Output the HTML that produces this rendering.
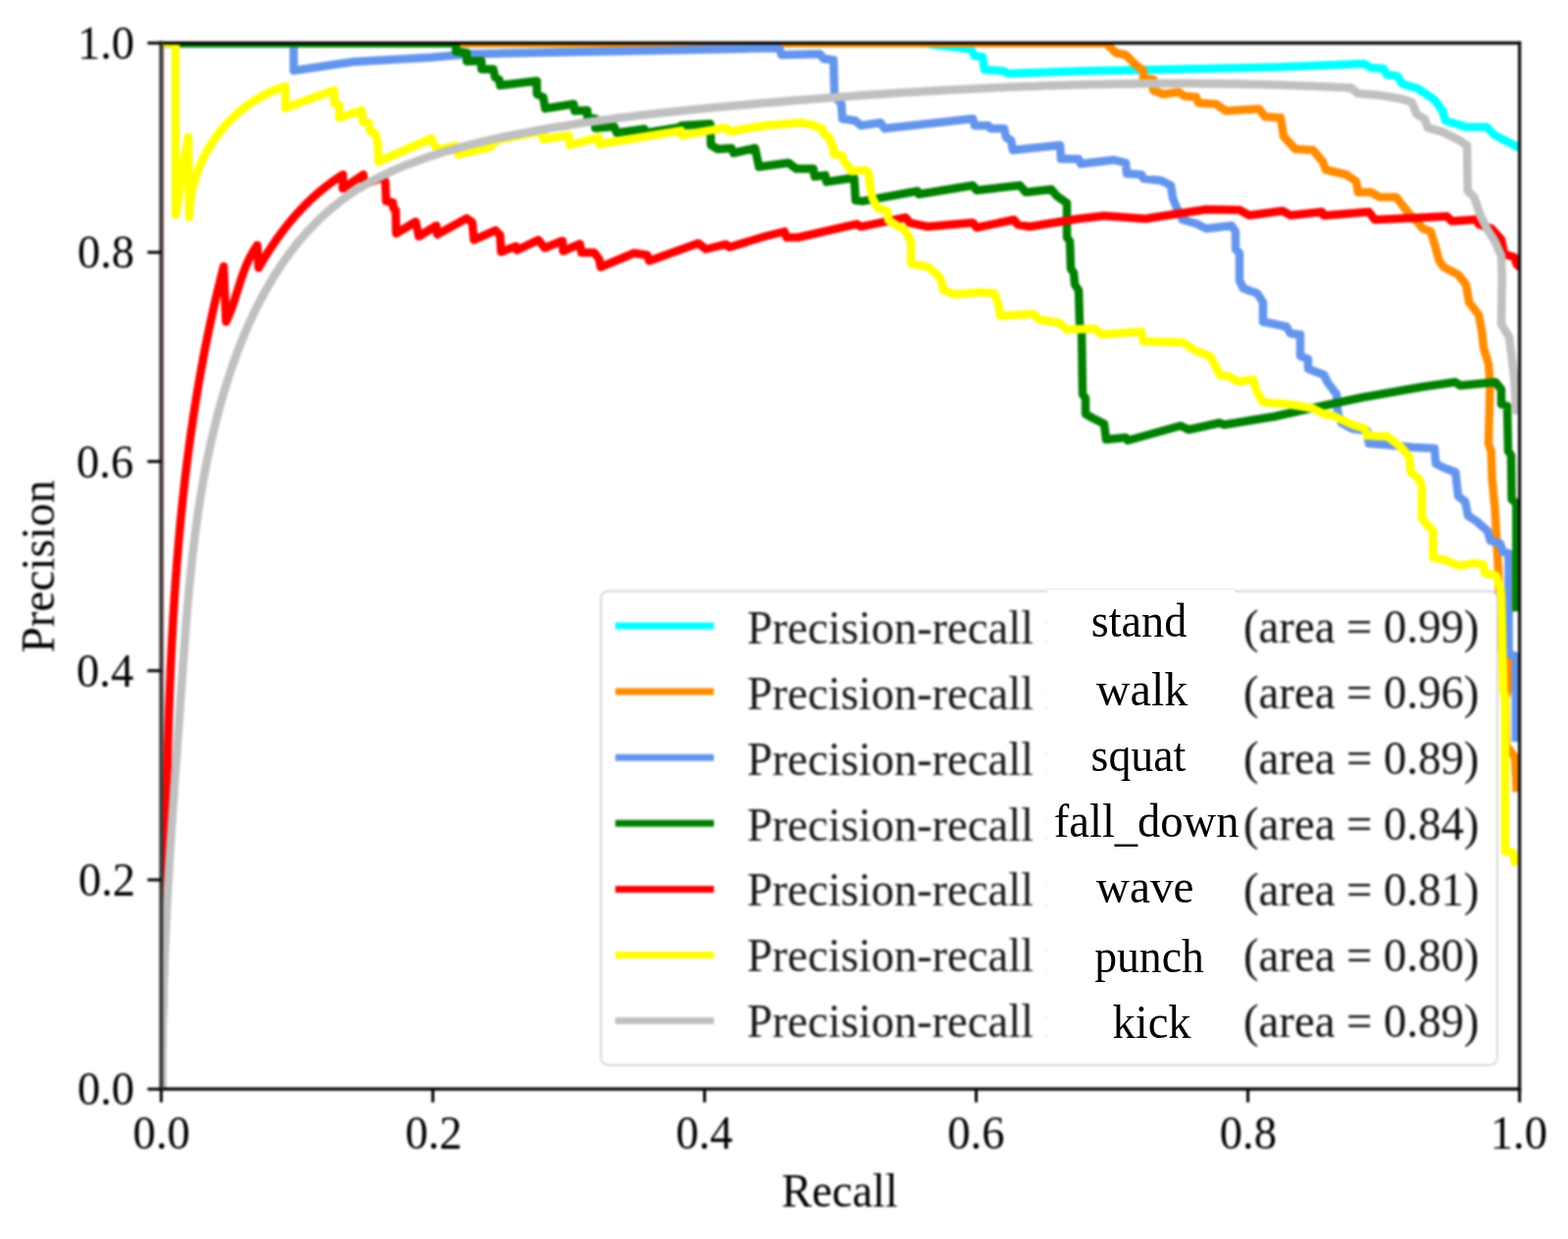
<!DOCTYPE html><html><head><meta charset="utf-8"><style>html,body{margin:0;padding:0;background:#fff;}svg{display:block;}#w{filter:blur(1px);width:1599px;height:1263px;}#o{position:absolute;left:0;top:0;}</style></head><body>
<div id="w">
<svg width="1599" height="1263" viewBox="0 0 1599 1263" font-family="'Liberation Serif', 'Times New Roman', serif" font-size="48">
<rect width="1599" height="1263" fill="#fff"/>
<defs><clipPath id="ax"><rect x="164.4" y="43.9" width="1385.2" height="1066.3"/></clipPath></defs>
<g clip-path="url(#ax)" fill="none" stroke-width="8.5" stroke-linejoin="round" stroke-linecap="square">
<line x1="164.4" y1="44" x2="164.4" y2="1110" stroke="#ff0000" stroke-opacity="0.3" stroke-width="6.2"/>
<path d="M164.4,44.0 L945.0,44.0 L954.0,46.0 L990.0,50.0 L994.0,57.0 L1002.0,58.0 L1004.0,71.0 L1024.0,72.5 L1028.0,75.0 L1100.0,72.5 L1215.0,70.3 L1300.0,68.5 L1391.0,65.0 L1398.0,69.0 L1411.0,70.0 L1414.0,76.0 L1425.0,77.4 L1430.0,85.5 L1446.0,90.4 L1463.0,101.8 L1471.0,113.0 L1474.0,123.0 L1495.0,129.4 L1516.0,129.4 L1524.0,137.6 L1536.0,144.0 L1549.6,150.6" stroke="#00ffff"/>
<path d="M164.4,44.0 L1128.0,44.0 L1138.0,54.0 L1148.0,56.0 L1158.0,66.0 L1166.0,72.0 L1166.0,80.0 L1176.0,81.0 L1176.0,92.0 L1186.0,96.0 L1202.0,94.0 L1208.0,98.0 L1220.0,99.0 L1222.0,105.0 L1240.0,106.0 L1250.0,113.0 L1284.0,111.0 L1290.0,119.0 L1306.0,120.0 L1309.0,139.0 L1321.0,152.0 L1339.0,153.0 L1349.0,165.0 L1352.0,173.0 L1373.0,178.0 L1383.0,185.0 L1385.0,196.0 L1398.0,196.0 L1407.0,201.0 L1424.0,201.0 L1430.0,209.0 L1438.0,219.0 L1446.0,227.0 L1451.0,233.0 L1459.0,236.0 L1463.0,249.0 L1467.5,265.5 L1472.0,272.0 L1487.0,280.0 L1495.0,290.0 L1498.0,308.0 L1508.0,321.0 L1511.0,337.0 L1513.0,355.0 L1518.0,371.0 L1519.5,391.0 L1518.0,452.0 L1520.6,460.0 L1521.6,488.0 L1524.4,517.0 L1526.3,551.0 L1528.3,589.0 L1529.2,620.0 L1531.0,660.0 L1538.5,673.0 L1538.5,701.0 L1535.0,712.0 L1536.0,760.0 L1545.0,772.0 L1546.5,803.0" stroke="#ff8c00"/>
<path d="M164.4,44.0 L299.5,44.0 L299.5,72.0 L360.0,63.0 L440.0,58.5 L480.0,55.0 L640.0,52.0 L790.0,49.0 L795.0,50.0 L797.0,56.0 L836.0,55.0 L840.0,60.0 L850.0,61.0 L851.0,98.0 L858.0,106.0 L859.0,121.0 L872.0,123.0 L878.0,128.0 L898.0,125.0 L902.0,131.0 L992.0,121.0 L994.0,128.0 L1008.0,128.0 L1010.0,131.0 L1024.0,131.0 L1026.0,140.0 L1031.0,143.0 L1033.0,153.0 L1081.0,148.0 L1082.0,162.0 L1100.0,162.0 L1102.0,167.0 L1136.0,163.0 L1148.0,166.0 L1149.0,177.0 L1164.0,178.0 L1166.0,182.0 L1184.0,184.0 L1194.0,189.0 L1196.0,202.0 L1200.0,212.0 L1206.0,224.0 L1220.0,228.0 L1230.0,233.0 L1256.0,230.0 L1260.0,236.0 L1260.0,254.0 L1264.0,258.0 L1264.0,286.0 L1268.0,294.0 L1282.0,299.0 L1288.0,308.0 L1288.0,328.0 L1298.0,330.0 L1312.0,333.0 L1316.0,340.0 L1326.0,341.0 L1326.0,363.0 L1334.0,366.0 L1334.0,376.0 L1350.0,382.0 L1354.0,390.0 L1363.0,402.0 L1364.0,420.0 L1368.0,431.0 L1379.0,437.0 L1394.0,439.0 L1396.0,452.0 L1409.0,453.0 L1441.4,456.0 L1462.8,457.0 L1464.2,472.8 L1472.8,477.0 L1484.2,481.3 L1487.0,505.6 L1494.2,511.3 L1497.0,525.6 L1505.6,531.3 L1517.0,541.3 L1519.9,551.2 L1529.8,554.1 L1532.7,562.7 L1538.4,564.1 L1538.7,666.5 L1545.8,669.0 L1545.8,752.0" stroke="#6495ed"/>
<path d="M164.4,44.0 L465.0,44.0 L465.0,52.5 L476.0,54.0 L476.0,62.5 L491.0,62.0 L491.0,70.6 L503.0,70.6 L505.0,79.0 L509.0,81.0 L510.0,87.0 L547.5,82.5 L547.5,96.0 L554.0,99.0 L556.0,110.6 L585.0,106.0 L586.0,113.0 L599.0,112.5 L599.0,120.0 L607.0,121.0 L607.0,130.5 L626.3,129.0 L628.9,135.4 L656.9,131.5 L658.0,135.5 L692.0,130.0 L695.0,128.0 L724.3,126.3 L725.0,148.0 L732.0,152.0 L746.0,151.0 L748.0,156.0 L770.0,151.0 L774.0,170.0 L804.0,166.0 L812.0,172.0 L829.4,172.0 L830.8,180.0 L841.5,178.6 L842.9,185.4 L871.1,181.3 L872.5,204.2 L880.6,204.9 L935.7,194.8 L937.1,198.0 L992.0,189.0 L996.0,194.0 L1040.0,189.0 L1046.0,196.0 L1072.0,193.0 L1078.0,200.0 L1088.0,207.0 L1088.0,242.0 L1091.0,246.0 L1092.0,274.0 L1095.0,278.0 L1096.0,290.0 L1100.0,296.0 L1101.0,330.0 L1103.0,338.0 L1104.0,402.0 L1107.0,406.0 L1107.0,422.0 L1114.0,426.0 L1126.0,432.0 L1128.0,448.0 L1148.0,446.0 L1150.0,449.0 L1204.0,434.0 L1212.0,438.0 L1244.0,431.0 L1248.0,433.0 L1300.0,424.5 L1342.0,415.2 L1390.0,405.0 L1451.0,394.3 L1484.0,389.5 L1489.0,393.0 L1525.0,389.5 L1531.0,397.0 L1531.0,412.0 L1537.0,414.0 L1538.0,460.0 L1541.0,464.0 L1541.6,509.0 L1546.3,513.0 L1546.3,619.0" stroke="#008000"/>
<path d="M163.2,1109.7 L163.3,1107.6 L163.4,1105.5 L163.5,1103.4 L163.6,1101.3 L163.7,1099.2 L163.8,1097.1 L163.8,1095.0 L163.9,1092.9 L164.0,1090.8 L164.1,1088.7 L164.2,1086.6 L164.2,1084.5 L164.3,1082.4 L164.4,1080.3 L164.5,1078.2 L164.5,1076.1 L164.6,1074.0 L164.7,1071.9 L164.8,1069.8 L164.8,1067.7 L164.9,1065.6 L165.0,1063.5 L165.0,1061.4 L165.1,1059.3 L165.2,1057.2 L165.2,1055.1 L165.3,1053.0 L165.4,1050.9 L165.4,1048.8 L165.5,1046.7 L165.6,1044.6 L165.6,1042.5 L165.7,1040.4 L165.7,1038.3 L165.8,1036.2 L165.9,1034.1 L165.9,1032.0 L166.0,1029.9 L166.0,1027.8 L166.1,1025.6 L166.1,1023.5 L166.2,1021.4 L166.2,1019.3 L166.3,1017.2 L166.3,1015.1 L166.4,1013.0 L166.4,1010.9 L166.5,1008.8 L166.5,1006.7 L166.6,1004.6 L166.6,1002.5 L166.7,1000.4 L166.7,998.2 L166.8,996.1 L166.8,994.0 L166.9,991.9 L166.9,989.8 L167.0,987.7 L167.0,985.6 L167.0,983.5 L167.1,981.4 L167.1,979.3 L167.2,977.1 L167.2,975.0 L167.3,972.9 L167.3,970.8 L167.3,968.7 L167.4,966.6 L167.4,964.5 L167.5,962.4 L167.5,960.3 L167.5,958.1 L167.6,956.0 L167.6,953.9 L167.6,951.8 L167.7,949.7 L167.7,947.6 L167.8,945.5 L167.8,943.4 L167.8,941.2 L167.9,939.1 L167.9,937.0 L167.9,934.9 L168.0,932.8 L168.0,930.7 L168.0,928.6 L168.1,926.4 L168.1,924.3 L168.2,922.2 L168.2,920.1 L168.2,918.0 L168.3,915.9 L168.3,913.8 L168.3,911.6 L168.4,909.5 L168.4,907.4 L168.4,905.3 L168.5,903.2 L168.5,901.1 L168.5,899.0 L168.6,896.8 L168.6,894.7 L168.6,892.6 L168.7,890.5 L168.7,888.4 L168.7,886.3 L168.8,884.2 L168.8,882.0 L168.8,879.9 L168.9,877.8 L168.9,875.7 L168.9,873.6 L169.0,871.5 L169.0,869.3 L169.0,867.2 L169.1,865.1 L169.1,863.0 L169.2,860.9 L169.2,858.8 L169.2,856.6 L169.3,854.5 L169.3,852.4 L169.3,850.3 L169.4,848.2 L169.4,846.1 L169.4,843.9 L169.5,841.8 L169.5,839.7 L169.6,837.6 L169.6,835.5 L169.6,833.4 L169.7,831.2 L169.7,829.1 L169.8,827.0 L169.8,824.9 L169.8,822.8 L169.9,820.7 L169.9,818.5 L170.0,816.4 L170.0,814.3 L170.0,812.2 L170.1,810.1 L170.1,808.0 L170.2,805.8 L170.2,803.7 L170.3,801.6 L170.3,799.5 L170.4,797.4 L170.4,795.3 L170.5,793.1 L170.5,791.0 L170.5,788.9 L170.6,786.8 L170.6,784.7 L170.7,782.6 L170.7,780.4 L170.8,778.3 L170.9,776.2 L170.9,774.1 L171.0,772.0 L171.0,769.9 L171.1,767.7 L171.1,765.6 L171.2,763.5 L171.2,761.4 L171.3,759.3 L171.3,757.2 L171.4,755.0 L171.5,752.9 L171.5,750.8 L171.6,748.7 L171.7,746.6 L171.7,744.5 L171.8,742.4 L171.8,740.2 L171.9,738.1 L172.0,736.0 L172.0,733.9 L172.1,731.8 L172.2,729.7 L172.2,727.5 L172.3,725.4 L172.4,723.3 L172.5,721.2 L172.5,719.1 L172.6,717.0 L172.7,714.9 L172.8,712.7 L172.8,710.6 L172.9,708.5 L173.0,706.4 L173.1,704.3 L173.2,702.2 L173.2,700.0 L173.3,697.9 L173.4,695.8 L173.5,693.7 L173.6,691.6 L173.7,689.5 L173.8,687.4 L173.8,685.3 L173.9,683.1 L174.0,681.0 L174.1,678.9 L174.2,676.8 L174.3,674.7 L174.4,672.6 L174.5,670.5 L174.6,668.3 L174.7,666.2 L174.8,664.1 L174.9,662.0 L175.0,659.9 L175.1,657.8 L175.2,655.7 L175.3,653.6 L175.4,651.5 L175.5,649.3 L175.7,647.2 L175.8,645.1 L175.9,643.0 L176.0,640.9 L176.1,638.8 L176.2,636.7 L176.4,634.6 L176.5,632.5 L176.6,630.3 L176.7,628.2 L176.8,626.1 L177.0,624.0 L177.1,621.9 L177.2,619.8 L177.4,617.7 L177.5,615.6 L177.6,613.5 L177.8,611.4 L177.9,609.3 L178.0,607.1 L178.2,605.0 L178.3,602.9 L178.5,600.8 L178.6,598.7 L178.8,596.6 L178.9,594.5 L179.1,592.4 L179.2,590.3 L179.4,588.2 L179.5,586.1 L179.7,584.0 L179.8,581.9 L180.0,579.8 L180.1,577.6 L180.3,575.5 L180.5,573.4 L180.6,571.3 L180.8,569.2 L181.0,567.1 L181.2,565.0 L181.3,562.9 L181.5,560.8 L181.7,558.7 L181.9,556.6 L182.0,554.5 L182.2,552.4 L182.4,550.3 L182.6,548.2 L182.8,546.1 L183.0,544.0 L183.2,541.9 L183.3,539.8 L183.5,537.7 L183.7,535.6 L183.9,533.5 L184.1,531.4 L184.3,529.3 L184.5,527.2 L184.8,525.1 L185.0,523.0 L185.2,520.9 L185.4,518.8 L185.6,516.7 L185.8,514.6 L186.0,512.5 L186.3,510.4 L186.5,508.3 L186.7,506.2 L186.9,504.1 L187.2,502.0 L187.4,499.9 L187.6,497.8 L187.9,495.7 L188.1,493.6 L188.3,491.5 L188.6,489.4 L188.8,487.3 L189.1,485.2 L189.3,483.2 L189.6,481.1 L189.8,479.0 L190.1,476.9 L190.3,474.8 L190.6,472.7 L190.9,470.6 L191.1,468.5 L191.4,466.4 L191.7,464.3 L191.9,462.2 L192.2,460.1 L192.5,458.0 L192.7,456.0 L193.0,453.9 L193.3,451.8 L193.6,449.7 L193.9,447.6 L194.2,445.5 L194.5,443.4 L194.8,441.3 L195.1,439.2 L195.4,437.2 L195.7,435.1 L196.0,433.0 L196.3,430.9 L196.6,428.8 L196.9,426.7 L197.2,424.6 L197.5,422.6 L197.8,420.5 L198.2,418.4 L198.5,416.3 L198.8,414.2 L199.1,412.1 L199.5,410.1 L199.8,408.0 L200.1,405.9 L200.5,403.8 L200.8,401.7 L201.2,399.7 L201.5,397.6 L201.9,395.5 L202.2,393.4 L202.6,391.3 L202.9,389.3 L203.3,387.2 L203.7,385.1 L204.0,383.0 L204.4,380.9 L204.8,378.9 L205.1,376.8 L205.5,374.7 L205.9,372.6 L206.3,370.6 L206.7,368.5 L207.0,366.4 L207.4,364.3 L207.8,362.3 L208.2,360.2 L208.6,358.1 L209.0,356.0 L209.4,354.0 L209.8,351.9 L210.3,349.8 L210.7,347.8 L211.1,345.7 L211.5,343.6 L211.9,341.6 L212.4,339.5 L212.8,337.4 L213.2,335.3 L213.7,333.3 L214.1,331.2 L214.5,329.1 L215.0,327.1 L215.4,325.0 L215.9,322.9 L216.3,320.9 L216.8,318.8 L217.2,316.8 L217.7,314.7 L218.2,312.6 L218.6,310.6 L219.1,308.5 L219.6,306.4 L220.1,304.4 L220.5,302.3 L221.0,300.3 L221.5,298.2 L222.0,296.1 L222.5,294.1 L223.0,292.0 L223.5,290.0 L224.0,287.9 L224.5,285.8 L225.0,283.8 L225.5,281.7 L226.0,279.7 L226.6,277.6 L227.1,275.6 L227.6,273.5 L228.1,271.5 L230.5,328.0 L230.6,327.8 L230.7,327.6 L230.8,327.4 L230.9,327.2 L230.9,327.0 L231.0,326.8 L231.1,326.7 L231.2,326.5 L231.3,326.3 L231.4,326.1 L231.5,325.9 L231.6,325.7 L231.7,325.5 L231.8,325.3 L231.8,325.1 L231.9,324.9 L232.0,324.7 L232.1,324.5 L232.2,324.4 L232.3,324.2 L232.4,324.0 L232.4,323.8 L232.5,323.6 L232.6,323.4 L232.7,323.2 L232.8,323.0 L232.9,322.8 L233.0,322.6 L233.0,322.4 L233.1,322.2 L233.2,322.0 L233.3,321.8 L233.4,321.6 L233.5,321.5 L233.5,321.3 L233.6,321.1 L233.7,320.9 L233.8,320.7 L233.9,320.5 L233.9,320.3 L234.0,320.1 L234.1,319.9 L234.2,319.7 L234.3,319.5 L234.3,319.3 L234.4,319.1 L234.5,318.9 L234.6,318.7 L234.7,318.5 L234.7,318.3 L234.8,318.1 L234.9,317.9 L235.0,317.7 L235.0,317.5 L235.1,317.3 L235.2,317.1 L235.3,316.9 L235.3,316.7 L235.4,316.5 L235.5,316.3 L235.6,316.1 L235.6,316.0 L235.7,315.8 L235.8,315.6 L235.9,315.4 L235.9,315.2 L236.0,315.0 L236.1,314.8 L236.2,314.6 L236.2,314.4 L236.3,314.2 L236.4,314.0 L236.5,313.8 L236.5,313.6 L236.6,313.4 L236.7,313.2 L236.7,313.0 L236.8,312.8 L236.9,312.6 L237.0,312.4 L237.0,312.2 L237.1,312.0 L237.2,311.8 L237.2,311.6 L237.3,311.4 L237.4,311.2 L237.5,311.0 L237.5,310.8 L237.6,310.6 L237.7,310.4 L237.7,310.2 L237.8,310.0 L237.9,309.8 L237.9,309.6 L238.0,309.4 L238.1,309.2 L238.1,309.0 L238.2,308.8 L238.3,308.6 L238.3,308.4 L238.4,308.2 L238.5,308.0 L238.6,307.8 L238.6,307.5 L238.7,307.3 L238.8,307.1 L238.8,306.9 L238.9,306.7 L239.0,306.5 L239.0,306.3 L239.1,306.1 L239.2,305.9 L239.2,305.7 L239.3,305.5 L239.4,305.3 L239.4,305.1 L239.5,304.9 L239.5,304.7 L239.6,304.5 L239.7,304.3 L239.7,304.1 L239.8,303.9 L239.9,303.7 L239.9,303.5 L240.0,303.3 L240.1,303.1 L240.1,302.9 L240.2,302.7 L240.3,302.5 L240.3,302.3 L240.4,302.1 L240.5,301.9 L240.5,301.7 L240.6,301.5 L240.7,301.3 L240.7,301.1 L240.8,300.9 L240.8,300.7 L240.9,300.5 L241.0,300.3 L241.0,300.1 L241.1,299.9 L241.2,299.6 L241.2,299.4 L241.3,299.2 L241.4,299.0 L241.4,298.8 L241.5,298.6 L241.6,298.4 L241.6,298.2 L241.7,298.0 L241.7,297.8 L241.8,297.6 L241.9,297.4 L241.9,297.2 L242.0,297.0 L242.1,296.8 L242.1,296.6 L242.2,296.4 L242.3,296.2 L242.3,296.0 L242.4,295.8 L242.4,295.6 L242.5,295.4 L242.6,295.2 L242.6,295.0 L242.7,294.8 L242.8,294.6 L242.8,294.4 L242.9,294.2 L243.0,294.0 L243.0,293.7 L243.1,293.5 L243.1,293.3 L243.2,293.1 L243.3,292.9 L243.3,292.7 L243.4,292.5 L243.5,292.3 L243.5,292.1 L243.6,291.9 L243.7,291.7 L243.7,291.5 L243.8,291.3 L243.8,291.1 L243.9,290.9 L244.0,290.7 L244.0,290.5 L244.1,290.3 L244.2,290.1 L244.2,289.9 L244.3,289.7 L244.4,289.5 L244.4,289.3 L244.5,289.1 L244.6,288.9 L244.6,288.7 L244.7,288.5 L244.8,288.3 L244.8,288.1 L244.9,287.9 L245.0,287.7 L245.0,287.5 L245.1,287.2 L245.1,287.0 L245.2,286.8 L245.3,286.6 L245.3,286.4 L245.4,286.2 L245.5,286.0 L245.5,285.8 L245.6,285.6 L245.7,285.4 L245.7,285.2 L245.8,285.0 L245.9,284.8 L245.9,284.6 L246.0,284.4 L246.1,284.2 L246.1,284.0 L246.2,283.8 L246.3,283.6 L246.3,283.4 L246.4,283.2 L246.5,283.0 L246.6,282.8 L246.6,282.6 L246.7,282.4 L246.8,282.2 L246.8,282.0 L246.9,281.8 L247.0,281.6 L247.0,281.4 L247.1,281.2 L247.2,281.0 L247.2,280.8 L247.3,280.6 L247.4,280.4 L247.5,280.2 L247.5,280.0 L247.6,279.8 L247.7,279.6 L247.7,279.4 L247.8,279.2 L247.9,279.0 L247.9,278.8 L248.0,278.6 L248.1,278.4 L248.2,278.2 L248.2,278.0 L248.3,277.8 L248.4,277.6 L248.5,277.4 L248.5,277.2 L248.6,277.0 L248.7,276.8 L248.7,276.6 L248.8,276.4 L248.9,276.2 L249.0,276.0 L249.0,275.8 L249.1,275.6 L249.2,275.4 L249.3,275.2 L249.3,275.0 L249.4,274.8 L249.5,274.6 L249.6,274.4 L249.6,274.2 L249.7,274.0 L249.8,273.8 L249.9,273.6 L250.0,273.4 L250.0,273.2 L250.1,273.0 L250.2,272.9 L250.3,272.7 L250.3,272.5 L250.4,272.3 L250.5,272.1 L250.6,271.9 L250.7,271.7 L250.7,271.5 L250.8,271.3 L250.9,271.1 L251.0,270.9 L251.1,270.7 L251.1,270.5 L251.2,270.3 L251.3,270.1 L251.4,269.9 L251.5,269.7 L251.6,269.5 L251.6,269.3 L251.7,269.1 L251.8,268.9 L251.9,268.8 L252.0,268.6 L252.1,268.4 L252.1,268.2 L252.2,268.0 L252.3,267.8 L252.4,267.6 L252.5,267.4 L252.6,267.2 L252.7,267.0 L252.7,266.8 L252.8,266.6 L252.9,266.4 L253.0,266.2 L253.1,266.1 L253.2,265.9 L253.3,265.7 L253.4,265.5 L253.4,265.3 L253.5,265.1 L253.6,264.9 L253.7,264.7 L253.8,264.5 L253.9,264.3 L254.0,264.1 L254.1,264.0 L254.2,263.8 L254.3,263.6 L254.4,263.4 L254.5,263.2 L254.6,263.0 L254.6,262.8 L254.7,262.6 L254.8,262.4 L254.9,262.3 L255.0,262.1 L255.1,261.9 L255.2,261.7 L255.3,261.5 L255.4,261.3 L255.5,261.1 L255.6,260.9 L255.7,260.8 L255.8,260.6 L255.9,260.4 L256.0,260.2 L256.1,260.0 L256.2,259.8 L256.3,259.6 L256.4,259.5 L256.5,259.3 L256.6,259.1 L256.7,258.9 L256.8,258.7 L256.9,258.5 L257.0,258.3 L257.1,258.2 L257.2,258.0 L257.3,257.8 L257.4,257.6 L257.5,257.4 L257.7,257.2 L257.8,257.1 L257.9,256.9 L258.0,256.7 L258.1,256.5 L258.2,256.3 L258.3,256.2 L258.4,256.0 L258.5,255.8 L258.6,255.6 L258.7,255.4 L258.9,255.2 L259.0,255.1 L259.1,254.9 L259.2,254.7 L259.3,254.5 L259.4,254.3 L259.5,254.2 L259.6,254.0 L259.8,253.8 L259.9,253.6 L260.0,253.5 L260.1,253.3 L260.2,253.1 L260.3,252.9 L260.5,252.7 L260.6,252.6 L260.7,252.4 L260.8,252.2 L260.9,252.0 L261.1,251.9 L261.2,251.7 L261.3,251.5 L261.4,251.3 L261.5,251.2 L261.7,251.0 L261.8,250.8 L261.9,250.6 L262.0,250.5 L262.2,250.3 L262.3,250.1 L262.4,249.9 L263.7,273.1 L263.8,272.8 L264.0,272.5 L264.2,272.2 L264.3,272.0 L264.5,271.7 L264.7,271.4 L264.8,271.1 L265.0,270.8 L265.1,270.5 L265.3,270.3 L265.5,270.0 L265.6,269.7 L265.8,269.4 L266.0,269.1 L266.1,268.9 L266.3,268.6 L266.5,268.3 L266.6,268.0 L266.8,267.7 L267.0,267.5 L267.1,267.2 L267.3,266.9 L267.5,266.6 L267.6,266.3 L267.8,266.1 L268.0,265.8 L268.1,265.5 L268.3,265.2 L268.5,264.9 L268.6,264.7 L268.8,264.4 L269.0,264.1 L269.1,263.8 L269.3,263.5 L269.5,263.3 L269.7,263.0 L269.8,262.7 L270.0,262.4 L270.2,262.2 L270.3,261.9 L270.5,261.6 L270.7,261.3 L270.8,261.1 L271.0,260.8 L271.2,260.5 L271.4,260.2 L271.5,259.9 L271.7,259.7 L271.9,259.4 L272.1,259.1 L272.2,258.8 L272.4,258.6 L272.6,258.3 L272.7,258.0 L272.9,257.7 L273.1,257.5 L273.3,257.2 L273.4,256.9 L273.6,256.6 L273.8,256.4 L274.0,256.1 L274.2,255.8 L274.3,255.6 L274.5,255.3 L274.7,255.0 L274.9,254.7 L275.0,254.5 L275.2,254.2 L275.4,253.9 L275.6,253.6 L275.7,253.4 L275.9,253.1 L276.1,252.8 L276.3,252.6 L276.5,252.3 L276.6,252.0 L276.8,251.7 L277.0,251.5 L277.2,251.2 L277.4,250.9 L277.5,250.7 L277.7,250.4 L277.9,250.1 L278.1,249.9 L278.3,249.6 L278.4,249.3 L278.6,249.0 L278.8,248.8 L279.0,248.5 L279.2,248.2 L279.4,248.0 L279.5,247.7 L279.7,247.4 L279.9,247.2 L280.1,246.9 L280.3,246.6 L280.5,246.4 L280.6,246.1 L280.8,245.8 L281.0,245.6 L281.2,245.3 L281.4,245.0 L281.6,244.8 L281.8,244.5 L281.9,244.2 L282.1,244.0 L282.3,243.7 L282.5,243.4 L282.7,243.2 L282.9,242.9 L283.1,242.7 L283.3,242.4 L283.4,242.1 L283.6,241.9 L283.8,241.6 L284.0,241.3 L284.2,241.1 L284.4,240.8 L284.6,240.5 L284.8,240.3 L285.0,240.0 L285.2,239.8 L285.3,239.5 L285.5,239.2 L285.7,239.0 L285.9,238.7 L286.1,238.5 L286.3,238.2 L286.5,237.9 L286.7,237.7 L286.9,237.4 L287.1,237.2 L287.3,236.9 L287.5,236.6 L287.7,236.4 L287.9,236.1 L288.1,235.9 L288.3,235.6 L288.4,235.3 L288.6,235.1 L288.8,234.8 L289.0,234.6 L289.2,234.3 L289.4,234.1 L289.6,233.8 L289.8,233.5 L290.0,233.3 L290.2,233.0 L290.4,232.8 L290.6,232.5 L290.8,232.3 L291.0,232.0 L291.2,231.8 L291.4,231.5 L291.6,231.3 L291.8,231.0 L292.0,230.7 L292.2,230.5 L292.4,230.2 L292.6,230.0 L292.8,229.7 L293.0,229.5 L293.2,229.2 L293.4,229.0 L293.6,228.7 L293.8,228.5 L294.0,228.2 L294.2,228.0 L294.4,227.7 L294.6,227.5 L294.9,227.2 L295.1,227.0 L295.3,226.7 L295.5,226.5 L295.7,226.2 L295.9,226.0 L296.1,225.7 L296.3,225.5 L296.5,225.2 L296.7,225.0 L296.9,224.7 L297.1,224.5 L297.3,224.2 L297.5,224.0 L297.7,223.7 L298.0,223.5 L298.2,223.2 L298.4,223.0 L298.6,222.8 L298.8,222.5 L299.0,222.3 L299.2,222.0 L299.4,221.8 L299.6,221.5 L299.8,221.3 L300.1,221.0 L300.3,220.8 L300.5,220.6 L300.7,220.3 L300.9,220.1 L301.1,219.8 L301.3,219.6 L301.5,219.3 L301.8,219.1 L302.0,218.9 L302.2,218.6 L302.4,218.4 L302.6,218.1 L302.8,217.9 L303.1,217.7 L303.3,217.4 L303.5,217.2 L303.7,216.9 L303.9,216.7 L304.1,216.5 L304.4,216.2 L304.6,216.0 L304.8,215.7 L305.0,215.5 L305.2,215.3 L305.4,215.0 L305.7,214.8 L305.9,214.6 L306.1,214.3 L306.3,214.1 L306.6,213.9 L306.8,213.6 L307.0,213.4 L307.2,213.1 L307.4,212.9 L307.7,212.7 L307.9,212.4 L308.1,212.2 L308.3,212.0 L308.6,211.7 L308.8,211.5 L309.0,211.3 L309.2,211.0 L309.5,210.8 L309.7,210.6 L309.9,210.4 L310.1,210.1 L310.4,209.9 L310.6,209.7 L310.8,209.4 L311.0,209.2 L311.3,209.0 L311.5,208.7 L311.7,208.5 L311.9,208.3 L312.2,208.1 L312.4,207.8 L312.6,207.6 L312.9,207.4 L313.1,207.2 L313.3,206.9 L313.6,206.7 L313.8,206.5 L314.0,206.2 L314.2,206.0 L314.5,205.8 L314.7,205.6 L314.9,205.3 L315.2,205.1 L315.4,204.9 L315.6,204.7 L315.9,204.5 L316.1,204.2 L316.3,204.0 L316.6,203.8 L316.8,203.6 L317.0,203.3 L317.3,203.1 L317.5,202.9 L317.8,202.7 L318.0,202.5 L318.2,202.2 L318.5,202.0 L318.7,201.8 L318.9,201.6 L319.2,201.4 L319.4,201.1 L319.7,200.9 L319.9,200.7 L320.1,200.5 L320.4,200.3 L320.6,200.1 L320.9,199.8 L321.1,199.6 L321.3,199.4 L321.6,199.2 L321.8,199.0 L322.1,198.8 L322.3,198.5 L322.6,198.3 L322.8,198.1 L323.0,197.9 L323.3,197.7 L323.5,197.5 L323.8,197.3 L324.0,197.1 L324.3,196.8 L324.5,196.6 L324.8,196.4 L325.0,196.2 L325.3,196.0 L325.5,195.8 L325.7,195.6 L326.0,195.4 L326.2,195.2 L326.5,195.0 L326.7,194.7 L327.0,194.5 L327.2,194.3 L327.5,194.1 L327.7,193.9 L328.0,193.7 L328.2,193.5 L328.5,193.3 L328.7,193.1 L329.0,192.9 L329.2,192.7 L329.5,192.5 L329.8,192.3 L330.0,192.1 L330.3,191.9 L330.5,191.7 L330.8,191.5 L331.0,191.3 L331.3,191.1 L331.5,190.9 L331.8,190.7 L332.0,190.5 L332.3,190.3 L332.6,190.1 L332.8,189.9 L333.1,189.7 L333.3,189.5 L333.6,189.3 L333.9,189.1 L334.1,188.9 L334.4,188.7 L334.6,188.5 L334.9,188.3 L335.2,188.1 L335.4,187.9 L335.7,187.7 L335.9,187.5 L336.2,187.3 L336.5,187.1 L336.7,186.9 L337.0,186.7 L337.2,186.5 L337.5,186.3 L337.8,186.1 L338.0,185.9 L338.3,185.7 L338.6,185.6 L338.8,185.4 L339.1,185.2 L339.4,185.0 L339.6,184.8 L339.9,184.6 L340.2,184.4 L340.4,184.2 L340.7,184.0 L341.0,183.8 L341.2,183.7 L341.5,183.5 L341.8,183.3 L342.0,183.1 L342.3,182.9 L342.6,182.7 L342.9,182.5 L343.1,182.4 L343.4,182.2 L343.7,182.0 L343.9,181.8 L344.2,181.6 L344.5,181.4 L344.8,181.2 L345.0,181.1 L345.3,180.9 L345.6,180.7 L345.9,180.5 L346.1,180.3 L346.4,180.2 L346.7,180.0 L347.0,179.8 L347.2,179.6 L347.5,179.4 L347.8,179.3 L348.1,179.1 L348.4,178.9 L348.6,178.7 L348.9,178.6 L349.2,178.4 L349.5,178.2 L349.8,178.0 L349.5,192.3 L370.5,178.0 L371.0,188.0 L391.0,180.5 L393.0,186.0 L393.8,205.0 L400.6,206.5 L401.3,212.5 L403.6,214.0 L404.0,238.0 L424.0,226.0 L427.0,241.0 L445.0,230.0 L446.0,239.0 L476.0,222.6 L481.6,226.7 L483.3,244.6 L505.2,234.8 L510.0,239.7 L511.0,256.7 L526.3,251.0 L527.2,255.0 L549.0,244.6 L555.6,252.7 L573.5,245.4 L574.3,256.0 L591.4,248.6 L593.0,257.6 L606.0,257.6 L611.0,264.0 L612.5,272.2 L640.0,260.8 L646.0,258.0 L660.0,260.0 L662.0,266.0 L712.0,248.0 L720.0,254.0 L740.0,249.0 L744.0,252.0 L780.0,241.0 L800.0,236.0 L802.0,242.0 L814.0,242.0 L873.8,228.4 L877.9,231.1 L923.6,221.7 L927.7,227.1 L946.0,231.0 L992.0,227.0 L996.0,232.0 L1034.0,224.0 L1038.0,229.0 L1050.0,231.0 L1100.0,223.0 L1126.0,220.0 L1168.0,223.0 L1200.0,218.0 L1230.0,213.5 L1264.0,214.0 L1274.0,219.5 L1308.0,215.0 L1316.0,219.5 L1348.0,216.0 L1350.0,219.7 L1396.0,216.0 L1402.0,224.0 L1475.6,220.5 L1480.5,225.4 L1505.0,223.7 L1508.0,228.6 L1521.0,233.0 L1531.0,244.0 L1534.0,259.0 L1544.0,262.0 L1547.0,270.0 L1549.6,272.0" stroke="#ff0000"/>
<path d="M164.4,44.0 L179.0,44.0 L179.0,219.0 L192.0,140.0 L193.0,221.0 L193.0,220.6 L193.1,220.1 L193.1,219.7 L193.1,219.2 L193.1,218.8 L193.1,218.3 L193.1,217.9 L193.1,217.4 L193.1,217.0 L193.1,216.6 L193.2,216.1 L193.2,215.7 L193.2,215.2 L193.2,214.8 L193.3,214.3 L193.3,213.9 L193.3,213.5 L193.3,213.0 L193.4,212.6 L193.4,212.1 L193.4,211.7 L193.5,211.2 L193.5,210.8 L193.5,210.4 L193.6,209.9 L193.6,209.5 L193.7,209.0 L193.7,208.6 L193.8,208.2 L193.8,207.7 L193.8,207.3 L193.9,206.8 L194.0,206.4 L194.0,206.0 L194.1,205.5 L194.1,205.1 L194.2,204.6 L194.2,204.2 L194.3,203.8 L194.3,203.3 L194.4,202.9 L194.5,202.4 L194.5,202.0 L194.6,201.6 L194.7,201.1 L194.7,200.7 L194.8,200.3 L194.9,199.8 L195.0,199.4 L195.0,198.9 L195.1,198.5 L195.2,198.1 L195.3,197.6 L195.4,197.2 L195.4,196.8 L195.5,196.3 L195.6,195.9 L195.7,195.5 L195.8,195.0 L195.9,194.6 L196.0,194.2 L196.1,193.7 L196.2,193.3 L196.2,192.9 L196.3,192.4 L196.4,192.0 L196.5,191.6 L196.6,191.2 L196.7,190.7 L196.8,190.3 L197.0,189.9 L197.1,189.4 L197.2,189.0 L197.3,188.6 L197.4,188.2 L197.5,187.7 L197.6,187.3 L197.7,186.9 L197.8,186.4 L198.0,186.0 L198.1,185.6 L198.2,185.2 L198.3,184.7 L198.4,184.3 L198.6,183.9 L198.7,183.5 L198.8,183.0 L198.9,182.6 L199.1,182.2 L199.2,181.8 L199.3,181.4 L199.5,180.9 L199.6,180.5 L199.7,180.1 L199.9,179.7 L200.0,179.3 L200.2,178.8 L200.3,178.4 L200.4,178.0 L200.6,177.6 L200.7,177.2 L200.9,176.7 L201.0,176.3 L201.2,175.9 L201.3,175.5 L201.5,175.1 L201.6,174.7 L201.8,174.3 L201.9,173.8 L202.1,173.4 L202.2,173.0 L202.4,172.6 L202.6,172.2 L202.7,171.8 L202.9,171.4 L203.0,171.0 L203.2,170.6 L203.4,170.1 L203.5,169.7 L203.7,169.3 L203.9,168.9 L204.1,168.5 L204.2,168.1 L204.4,167.7 L204.6,167.3 L204.8,166.9 L204.9,166.5 L205.1,166.1 L205.3,165.7 L205.5,165.3 L205.7,164.9 L205.8,164.5 L206.0,164.1 L206.2,163.7 L206.4,163.3 L206.6,162.9 L206.8,162.5 L207.0,162.1 L207.2,161.7 L207.4,161.3 L207.5,160.9 L207.7,160.5 L207.9,160.1 L208.1,159.7 L208.3,159.3 L208.5,158.9 L208.7,158.5 L208.9,158.1 L209.1,157.7 L209.4,157.3 L209.6,156.9 L209.8,156.6 L210.0,156.2 L210.2,155.8 L210.4,155.4 L210.6,155.0 L210.8,154.6 L211.0,154.2 L211.3,153.8 L211.5,153.5 L211.7,153.1 L211.9,152.7 L212.1,152.3 L212.4,151.9 L212.6,151.5 L212.8,151.2 L213.0,150.8 L213.3,150.4 L213.5,150.0 L213.7,149.6 L213.9,149.3 L214.2,148.9 L214.4,148.5 L214.6,148.1 L214.9,147.8 L215.1,147.4 L215.3,147.0 L215.6,146.6 L215.8,146.3 L216.1,145.9 L216.3,145.5 L216.5,145.2 L216.8,144.8 L217.0,144.4 L217.3,144.1 L217.5,143.7 L217.8,143.3 L218.0,143.0 L218.3,142.6 L218.5,142.2 L218.8,141.9 L219.0,141.5 L219.3,141.1 L219.5,140.8 L219.8,140.4 L220.0,140.1 L220.3,139.7 L220.6,139.4 L220.8,139.0 L221.1,138.6 L221.3,138.3 L221.6,137.9 L221.9,137.6 L222.1,137.2 L222.4,136.9 L222.7,136.5 L222.9,136.2 L223.2,135.8 L223.5,135.5 L223.7,135.1 L224.0,134.8 L224.3,134.4 L224.6,134.1 L224.8,133.7 L225.1,133.4 L225.4,133.0 L225.7,132.7 L226.0,132.4 L226.2,132.0 L226.5,131.7 L226.8,131.3 L227.1,131.0 L227.4,130.7 L227.7,130.3 L228.0,130.0 L228.2,129.7 L228.5,129.3 L228.8,129.0 L229.1,128.7 L229.4,128.3 L229.7,128.0 L230.0,127.7 L230.3,127.3 L230.6,127.0 L230.9,126.7 L231.2,126.4 L231.5,126.0 L231.8,125.7 L232.1,125.4 L232.4,125.1 L232.7,124.8 L233.0,124.4 L233.3,124.1 L233.6,123.8 L233.9,123.5 L234.2,123.2 L234.5,122.9 L234.8,122.5 L235.1,122.2 L235.4,121.9 L235.8,121.6 L236.1,121.3 L236.4,121.0 L236.7,120.7 L237.0,120.4 L237.3,120.1 L237.7,119.8 L238.0,119.4 L238.3,119.1 L238.6,118.8 L238.9,118.5 L239.3,118.2 L239.6,117.9 L239.9,117.6 L240.2,117.3 L240.6,117.0 L240.9,116.7 L241.2,116.5 L241.5,116.2 L241.9,115.9 L242.2,115.6 L242.5,115.3 L242.9,115.0 L243.2,114.7 L243.5,114.4 L243.9,114.1 L244.2,113.8 L244.5,113.6 L244.9,113.3 L245.2,113.0 L245.6,112.7 L245.9,112.4 L246.2,112.2 L246.6,111.9 L246.9,111.6 L247.3,111.3 L247.6,111.1 L248.0,110.8 L248.3,110.5 L248.6,110.2 L249.0,110.0 L249.3,109.7 L249.7,109.4 L250.0,109.2 L250.4,108.9 L250.7,108.6 L251.1,108.4 L251.5,108.1 L251.8,107.8 L252.2,107.6 L252.5,107.3 L252.9,107.1 L253.2,106.8 L253.6,106.6 L254.0,106.3 L254.3,106.0 L254.7,105.8 L255.0,105.5 L255.4,105.3 L255.8,105.0 L256.1,104.8 L256.5,104.6 L256.9,104.3 L257.2,104.1 L257.6,103.8 L258.0,103.6 L258.3,103.3 L258.7,103.1 L259.1,102.9 L259.4,102.6 L259.8,102.4 L260.2,102.2 L260.6,101.9 L260.9,101.7 L261.3,101.5 L261.7,101.2 L262.1,101.0 L262.4,100.8 L262.8,100.5 L263.2,100.3 L263.6,100.1 L264.0,99.9 L264.3,99.7 L264.7,99.4 L265.1,99.2 L265.5,99.0 L265.9,98.8 L266.3,98.6 L266.6,98.4 L267.0,98.1 L267.4,97.9 L267.8,97.7 L268.2,97.5 L268.6,97.3 L269.0,97.1 L269.4,96.9 L269.8,96.7 L270.1,96.5 L270.5,96.3 L270.9,96.1 L271.3,95.9 L271.7,95.7 L272.1,95.5 L272.5,95.3 L272.9,95.1 L273.3,94.9 L273.7,94.7 L274.1,94.5 L274.5,94.4 L274.9,94.2 L275.3,94.0 L275.7,93.8 L276.1,93.6 L276.5,93.4 L276.9,93.3 L277.3,93.1 L277.7,92.9 L278.1,92.7 L278.5,92.6 L279.0,92.4 L279.4,92.2 L279.8,92.0 L280.2,91.9 L280.6,91.7 L281.0,91.5 L281.4,91.4 L281.8,91.2 L282.2,91.0 L282.6,90.9 L283.1,90.7 L283.5,90.6 L283.9,90.4 L284.3,90.3 L284.7,90.1 L285.1,90.0 L285.6,89.8 L286.0,89.7 L286.4,89.5 L286.8,89.4 L287.2,89.2 L287.6,89.1 L288.1,88.9 L288.5,88.8 L288.9,88.7 L289.3,88.5 L289.8,88.4 L290.2,88.2 L290.6,88.1 L291.0,88.0 L291.0,88.0 L291.0,110.0 L340.6,92.0 L341.0,105.0 L346.0,107.0 L346.0,120.0 L368.8,112.5 L370.0,124.0 L376.0,125.0 L377.5,134.0 L382.5,136.0 L385.0,144.0 L386.0,165.0 L440.0,141.0 L442.5,147.5 L447.5,152.5 L466.0,148.5 L467.0,157.5 L500.0,150.0 L506.0,143.0 L553.0,133.5 L554.0,142.0 L580.0,138.0 L581.0,148.0 L610.5,140.0 L611.0,147.0 L694.6,133.2 L695.4,138.0 L740.0,130.1 L744.0,134.0 L780.0,128.0 L816.0,125.0 L829.4,127.5 L838.8,131.5 L840.2,136.9 L845.6,139.6 L846.9,145.0 L849.6,149.0 L850.3,157.1 L859.0,158.5 L860.4,163.8 L865.8,170.6 L868.5,174.6 L883.3,173.3 L886.0,177.3 L887.3,190.8 L890.0,202.9 L895.4,212.3 L904.8,215.0 L906.1,224.4 L914.2,229.8 L922.3,233.8 L926.3,240.6 L929.0,247.3 L929.0,268.8 L946.0,272.0 L956.0,280.0 L960.0,286.0 L962.0,296.0 L974.0,300.0 L1000.0,298.0 L1014.0,299.0 L1018.0,310.0 L1020.0,322.0 L1054.0,320.0 L1060.0,326.0 L1080.0,329.0 L1088.0,336.0 L1116.0,335.0 L1124.0,341.0 L1164.0,338.0 L1166.0,348.0 L1206.0,349.0 L1220.0,358.0 L1234.0,363.0 L1244.0,382.0 L1254.0,384.0 L1262.0,389.0 L1278.0,387.0 L1282.0,400.0 L1288.0,410.0 L1314.0,412.0 L1338.0,416.0 L1350.0,422.0 L1360.0,424.0 L1379.0,433.0 L1392.0,437.0 L1394.0,444.0 L1415.0,445.0 L1428.6,455.7 L1437.1,465.6 L1438.5,481.3 L1447.1,488.5 L1450.0,497.0 L1450.0,528.4 L1457.1,537.0 L1461.4,541.3 L1461.4,568.4 L1474.2,571.2 L1488.5,576.9 L1502.7,574.1 L1512.7,575.5 L1514.2,584.0 L1525.6,586.9 L1530.0,600.0 L1531.0,606.0 L1533.0,704.0 L1535.0,712.0 L1535.0,868.0 L1542.3,868.4 L1544.7,878.0" stroke="#ffff00"/>
<path d="M165.7,1110.3 L165.6,1105.3 L165.6,1100.3 L165.6,1095.3 L165.6,1090.2 L165.6,1085.2 L165.6,1080.2 L165.6,1075.2 L165.6,1070.2 L165.7,1065.2 L165.7,1060.2 L165.8,1055.2 L165.8,1050.2 L165.9,1045.2 L166.0,1040.2 L166.1,1035.2 L166.2,1030.2 L166.3,1025.2 L166.4,1020.1 L166.6,1015.1 L166.7,1010.1 L166.8,1005.2 L167.0,1000.2 L167.2,995.2 L167.3,990.2 L167.5,985.2 L167.7,980.2 L167.9,975.2 L168.1,970.2 L168.3,965.2 L168.5,960.2 L168.7,955.2 L169.0,950.2 L169.2,945.2 L169.4,940.2 L169.7,935.2 L169.9,930.2 L170.2,925.3 L170.4,920.3 L170.7,915.3 L171.0,910.3 L171.2,905.3 L171.5,900.3 L171.8,895.3 L172.1,890.3 L172.4,885.3 L172.7,880.4 L173.0,875.4 L173.3,870.4 L173.6,865.4 L173.9,860.4 L174.3,855.4 L174.6,850.4 L174.9,845.5 L175.2,840.5 L175.6,835.5 L175.9,830.5 L176.2,825.5 L176.6,820.5 L176.9,815.6 L177.3,810.6 L177.6,805.6 L177.9,800.6 L178.3,795.6 L178.6,790.6 L179.0,785.6 L179.3,780.7 L179.7,775.7 L180.1,770.7 L180.4,765.7 L180.8,760.7 L181.1,755.7 L181.5,750.7 L181.8,745.8 L182.2,740.8 L182.6,735.8 L182.9,730.8 L183.3,725.8 L183.6,720.8 L184.0,715.8 L184.3,710.8 L184.7,705.9 L185.0,700.9 L185.4,695.9 L185.7,690.9 L186.1,685.9 L186.4,680.9 L186.8,675.9 L187.2,670.9 L187.5,665.9 L187.9,661.0 L188.2,656.0 L188.6,651.0 L189.0,646.0 L189.4,641.0 L189.8,636.0 L190.2,631.0 L190.6,626.1 L191.0,621.1 L191.4,616.1 L191.9,611.1 L192.3,606.1 L192.8,601.2 L193.2,596.2 L193.7,591.2 L194.2,586.2 L194.7,581.3 L195.2,576.3 L195.8,571.3 L196.3,566.4 L196.9,561.4 L197.5,556.4 L198.1,551.5 L198.7,546.5 L199.3,541.6 L200.0,536.6 L200.7,531.7 L201.4,526.7 L202.1,521.8 L202.8,516.8 L203.6,511.9 L204.4,507.0 L205.2,502.0 L206.0,497.1 L206.9,492.2 L207.7,487.3 L208.6,482.3 L209.6,477.4 L210.5,472.5 L211.5,467.6 L212.5,462.7 L213.6,457.8 L214.6,452.9 L215.7,448.0 L216.9,443.2 L218.0,438.3 L219.2,433.4 L220.4,428.5 L221.7,423.7 L223.0,418.8 L224.3,413.9 L225.7,409.1 L227.1,404.2 L228.5,399.4 L230.0,394.6 L231.5,389.7 L233.0,384.9 L234.6,380.1 L236.2,375.3 L237.9,370.5 L239.6,365.8 L241.3,361.0 L243.1,356.3 L244.9,351.5 L246.8,346.9 L248.7,342.2 L250.6,337.5 L252.6,332.9 L254.7,328.3 L256.8,323.7 L258.9,319.2 L261.1,314.7 L263.4,310.2 L265.6,305.8 L268.0,301.4 L270.4,297.0 L272.8,292.7 L275.3,288.4 L277.8,284.1 L280.4,279.9 L283.1,275.7 L285.8,271.6 L288.6,267.6 L291.4,263.5 L294.3,259.6 L297.2,255.6 L300.2,251.8 L303.2,248.0 L306.4,244.2 L309.5,240.5 L312.8,236.9 L316.1,233.3 L319.4,229.8 L322.8,226.3 L326.3,222.9 L329.9,219.6 L333.5,216.3 L337.1,213.1 L340.9,210.0 L344.7,207.0 L348.6,204.0 L352.5,201.1 L356.5,198.3 L360.6,195.5 L364.8,192.9 L369.0,190.3 L373.3,187.8 L377.7,185.3 L382.1,183.0 L386.5,180.7 L391.1,178.5 L395.6,176.3 L400.2,174.2 L404.9,172.2 L409.6,170.2 L414.3,168.3 L419.0,166.5 L423.8,164.7 L428.6,163.0 L433.4,161.3 L438.3,159.6 L443.1,158.0 L448.0,156.5 L452.8,155.0 L457.7,153.5 L462.6,152.1 L467.5,150.8 L472.4,149.4 L477.3,148.1 L482.2,146.9 L487.1,145.7 L492.0,144.5 L497.0,143.3 L501.9,142.2 L506.8,141.1 L511.8,140.0 L516.7,139.0 L521.6,138.0 L526.6,137.0 L531.5,136.0 L536.5,135.1 L541.4,134.1 L546.4,133.2 L551.3,132.3 L556.2,131.5 L561.2,130.6 L566.1,129.8 L571.1,129.0 L576.0,128.2 L580.9,127.4 L585.9,126.6 L590.8,125.8 L595.7,125.1 L600.7,124.4 L605.6,123.7 L610.5,123.0 L615.5,122.3 L620.4,121.6 L625.3,121.0 L630.3,120.3 L635.2,119.7 L640.1,119.1 L645.1,118.5 L650.0,117.9 L654.9,117.3 L659.9,116.7 L664.8,116.2 L669.7,115.6 L674.7,115.1 L679.6,114.5 L684.6,114.0 L689.5,113.5 L694.4,113.0 L699.4,112.5 L704.3,112.0 L709.3,111.5 L714.2,111.0 L719.2,110.5 L724.1,110.1 L729.0,109.6 L734.0,109.1 L739.0,108.7 L743.9,108.2 L748.9,107.8 L753.8,107.3 L758.8,106.9 L763.7,106.4 L768.7,106.0 L773.7,105.6 L778.6,105.1 L783.6,104.7 L788.6,104.3 L793.5,103.9 L798.5,103.5 L803.5,103.0 L808.4,102.6 L813.4,102.2 L818.4,101.8 L823.4,101.4 L828.4,101.0 L833.3,100.7 L838.3,100.3 L843.3,99.9 L848.3,99.5 L853.3,99.1 L858.3,98.8 L863.2,98.4 L868.2,98.0 L873.2,97.7 L878.2,97.3 L883.2,97.0 L888.2,96.6 L893.2,96.3 L898.2,95.9 L903.2,95.6 L908.2,95.3 L913.2,95.0 L918.2,94.6 L923.2,94.3 L928.2,94.0 L933.2,93.7 L938.2,93.4 L943.2,93.1 L948.2,92.8 L953.2,92.5 L958.2,92.3 L963.2,92.0 L968.2,91.7 L973.2,91.4 L978.2,91.2 L983.2,90.9 L988.2,90.7 L993.2,90.4 L998.2,90.2 L1003.3,89.9 L1008.3,89.7 L1013.3,89.5 L1018.3,89.3 L1023.3,89.0 L1028.3,88.8 L1033.3,88.6 L1038.3,88.4 L1043.3,88.2 L1048.3,88.0 L1053.4,87.9 L1058.4,87.7 L1063.4,87.5 L1068.4,87.3 L1073.4,87.2 L1078.4,87.0 L1083.4,86.9 L1088.4,86.7 L1093.4,86.6 L1098.4,86.5 L1103.5,86.3 L1108.5,86.2 L1113.5,86.1 L1118.5,86.0 L1123.5,85.9 L1128.5,85.8 L1133.5,85.7 L1138.5,85.6 L1143.5,85.5 L1148.5,85.5 L1153.5,85.4 L1158.5,85.3 L1163.5,85.3 L1168.5,85.2 L1173.5,85.2 L1178.6,85.2 L1183.6,85.1 L1188.6,85.1 L1193.6,85.1 L1198.6,85.1 L1203.6,85.1 L1208.6,85.1 L1213.6,85.1 L1218.6,85.1 L1223.5,85.2 L1228.5,85.2 L1233.5,85.2 L1238.5,85.3 L1243.5,85.3 L1248.5,85.4 L1253.5,85.5 L1258.5,85.6 L1263.5,85.6 L1268.5,85.7 L1273.5,85.8 L1278.4,85.9 L1283.4,86.0 L1288.4,86.2 L1293.4,86.3 L1298.4,86.4 L1303.3,86.6 L1308.3,86.7 L1313.3,86.9 L1318.3,87.0 L1323.2,87.2 L1328.2,87.4 L1333.2,87.6 L1338.2,87.8 L1343.1,88.0 L1348.1,88.2 L1353.0,88.4 L1358.0,88.6 L1363.0,88.9 L1367.9,89.1 L1372.9,89.4 L1377.8,89.6 L1384.6,95.3 L1405.7,96.9 L1430.0,101.0 L1439.8,104.2 L1444.7,116.4 L1452.8,121.3 L1456.0,130.2 L1470.7,134.3 L1487.0,142.4 L1496.0,148.1 L1496.7,194.5 L1503.3,201.0 L1509.8,220.0 L1516.3,233.0 L1524.4,246.0 L1531.0,260.7 L1531.7,281.8 L1531.0,330.6 L1539.0,343.6 L1544.0,382.6 L1545.5,410.0 L1546.5,418.0" stroke="#c0c0c0"/>
</g>
<g stroke-linecap="square">
<line x1="164.4" y1="43.9" x2="1549.6" y2="43.9" stroke="#000" stroke-width="3.3"/>
<line x1="164.4" y1="1110.2" x2="1549.6" y2="1110.2" stroke="#000" stroke-width="3.3"/>
<line x1="1549.6" y1="43.9" x2="1549.6" y2="1110.2" stroke="#111" stroke-width="3.3"/>
<line x1="164.4" y1="43.9" x2="164.4" y2="1110.2" stroke="#3c3c3c" stroke-width="4.2"/>
</g>
<g stroke="#000" stroke-width="3">
<line x1="164.4" y1="1110.2" x2="164.4" y2="1123.7"/>
<line x1="150.4" y1="1110.2" x2="164.4" y2="1110.2"/>
<line x1="441.4" y1="1110.2" x2="441.4" y2="1123.7"/>
<line x1="150.4" y1="896.9" x2="164.4" y2="896.9"/>
<line x1="718.5" y1="1110.2" x2="718.5" y2="1123.7"/>
<line x1="150.4" y1="683.7" x2="164.4" y2="683.7"/>
<line x1="995.5" y1="1110.2" x2="995.5" y2="1123.7"/>
<line x1="150.4" y1="470.4" x2="164.4" y2="470.4"/>
<line x1="1272.6" y1="1110.2" x2="1272.6" y2="1123.7"/>
<line x1="150.4" y1="257.2" x2="164.4" y2="257.2"/>
<line x1="1549.6" y1="1110.2" x2="1549.6" y2="1123.7"/>
<line x1="150.4" y1="43.9" x2="164.4" y2="43.9"/>
</g>
<text transform="translate(78.95,1126.30) scale(0.9500,1)" font-size="49.0">0.0</text>
<text transform="translate(135.61,1171.20) scale(0.9500,1)" font-size="49.0">0.0</text>
<text transform="translate(79.92,913.04) scale(0.9500,1)" font-size="49.0">0.2</text>
<text transform="translate(413.13,1171.20) scale(0.9500,1)" font-size="49.0">0.2</text>
<text transform="translate(77.98,699.78) scale(0.9500,1)" font-size="49.0">0.4</text>
<text transform="translate(689.20,1171.20) scale(0.9500,1)" font-size="49.0">0.4</text>
<text transform="translate(77.98,486.52) scale(0.9500,1)" font-size="49.0">0.6</text>
<text transform="translate(966.24,1171.20) scale(0.9500,1)" font-size="49.0">0.6</text>
<text transform="translate(78.95,273.26) scale(0.9500,1)" font-size="49.0">0.8</text>
<text transform="translate(1243.77,1171.20) scale(0.9500,1)" font-size="49.0">0.8</text>
<text transform="translate(78.95,60.00) scale(0.9500,1)" font-size="49.0">1.0</text>
<text transform="translate(1519.84,1171.20) scale(0.9500,1)" font-size="49.0">1.0</text>
<text transform="translate(797.03,1230.00) scale(0.9669,1)" fill="#000">Recall</text>
<text transform="translate(55,665.59) rotate(-90) scale(0.9864,1)">Precision</text>
<rect x="612.75" y="602.60" width="914.05" height="483.00" rx="7" ry="7" fill="#fff" stroke="#d0d0d0" stroke-width="1.6"/>
<line x1="627.5" y1="638.0" x2="728" y2="638.0" stroke="#00ffff" stroke-width="7"/>
<text transform="translate(761.63,655.60) scale(0.9712,1)" fill="#1a1a1a">Precision-recall</text>
<text transform="translate(1268.05,654.80) scale(0.9737,1)" fill="#111">(area = 0.99)</text>
<rect x="1066.3" y="633.6" width="1.4" height="2" fill="#ddd"/>
<rect x="1066.3" y="653.6" width="1.4" height="2" fill="#ddd"/>
<line x1="627.5" y1="705.1" x2="728" y2="705.1" stroke="#ff8c00" stroke-width="7"/>
<text transform="translate(761.63,722.57) scale(0.9712,1)" fill="#1a1a1a">Precision-recall</text>
<text transform="translate(1268.05,721.77) scale(0.9737,1)" fill="#111">(area = 0.96)</text>
<rect x="1066.3" y="700.6" width="1.4" height="2" fill="#ddd"/>
<rect x="1066.3" y="720.6" width="1.4" height="2" fill="#ddd"/>
<line x1="627.5" y1="772.2" x2="728" y2="772.2" stroke="#6495ed" stroke-width="7"/>
<text transform="translate(761.63,789.54) scale(0.9712,1)" fill="#1a1a1a">Precision-recall</text>
<text transform="translate(1268.05,788.74) scale(0.9737,1)" fill="#111">(area = 0.89)</text>
<rect x="1066.3" y="767.5" width="1.4" height="2" fill="#ddd"/>
<rect x="1066.3" y="787.5" width="1.4" height="2" fill="#ddd"/>
<line x1="627.5" y1="839.3" x2="728" y2="839.3" stroke="#008000" stroke-width="7"/>
<text transform="translate(761.63,856.51) scale(0.9712,1)" fill="#1a1a1a">Precision-recall</text>
<text transform="translate(1268.05,855.71) scale(0.9737,1)" fill="#111">(area = 0.84)</text>
<rect x="1066.3" y="834.5" width="1.4" height="2" fill="#ddd"/>
<rect x="1066.3" y="854.5" width="1.4" height="2" fill="#ddd"/>
<line x1="627.5" y1="906.4" x2="728" y2="906.4" stroke="#ff0000" stroke-width="7"/>
<text transform="translate(761.63,923.48) scale(0.9712,1)" fill="#1a1a1a">Precision-recall</text>
<text transform="translate(1268.05,922.68) scale(0.9737,1)" fill="#111">(area = 0.81)</text>
<rect x="1066.3" y="901.5" width="1.4" height="2" fill="#ddd"/>
<rect x="1066.3" y="921.5" width="1.4" height="2" fill="#ddd"/>
<line x1="627.5" y1="973.5" x2="728" y2="973.5" stroke="#ffff00" stroke-width="7"/>
<text transform="translate(761.63,990.45) scale(0.9712,1)" fill="#1a1a1a">Precision-recall</text>
<text transform="translate(1268.05,989.65) scale(0.9737,1)" fill="#111">(area = 0.80)</text>
<rect x="1066.3" y="968.5" width="1.4" height="2" fill="#ddd"/>
<rect x="1066.3" y="988.5" width="1.4" height="2" fill="#ddd"/>
<line x1="627.5" y1="1040.6" x2="728" y2="1040.6" stroke="#c0c0c0" stroke-width="7"/>
<text transform="translate(761.63,1057.42) scale(0.9712,1)" fill="#1a1a1a">Precision-recall</text>
<text transform="translate(1268.05,1056.62) scale(0.9737,1)" fill="#111">(area = 0.89)</text>
<rect x="1066.3" y="1035.4" width="1.4" height="2" fill="#ddd"/>
<rect x="1066.3" y="1055.4" width="1.4" height="2" fill="#ddd"/>
</svg></div>
<svg id="o" width="1599" height="1263" viewBox="0 0 1599 1263" font-family="'Liberation Serif', 'Times New Roman', serif" font-size="48">
<rect x="1068" y="599.8" width="191" height="482" fill="#fff"/>
<line x1="1068" y1="600.6" x2="1259" y2="600.6" stroke="#ebebeb" stroke-width="1.4"/>
<text transform="translate(1112.77,648.60) scale(0.9626,1)" fill="#000">stand</text>
<text transform="translate(1117.80,719.10) scale(1.0022,1)" fill="#000">walk</text>
<text transform="translate(1112.59,786.00) scale(0.9545,1)" fill="#000">squat</text>
<text transform="translate(1074.83,853.20) scale(0.9694,1)" fill="#000">fall<tspan dy="4">_</tspan><tspan dy="-4">down</tspan></text>
<text transform="translate(1117.80,920.20) scale(0.9850,1)" fill="#000">wave</text>
<text transform="translate(1116.15,990.60) scale(0.9517,1)" fill="#000">punch</text>
<text transform="translate(1134.53,1058.20) scale(0.9695,1)" fill="#000">kick</text>
</svg></body></html>
